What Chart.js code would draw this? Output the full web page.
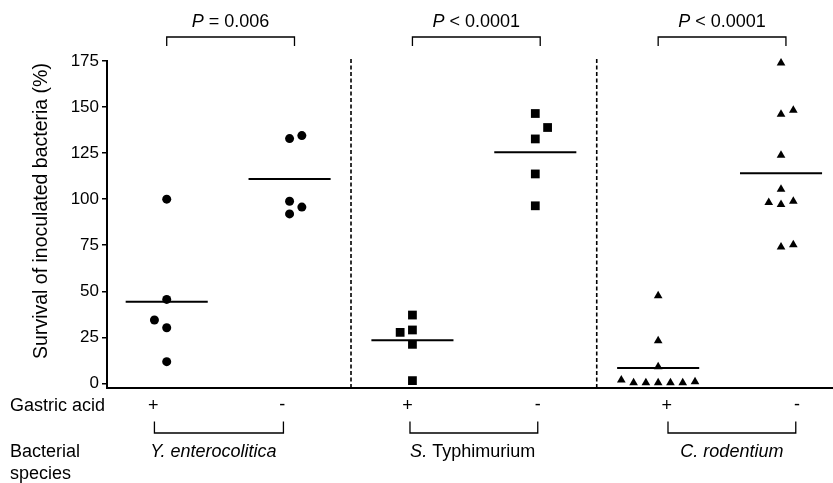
<!DOCTYPE html>
<html>
<head>
<meta charset="utf-8">
<script src="https://cdn.jsdelivr.net/npm/chart.js@4.4.0/dist/chart.umd.min.js"></script>
<style>
  html, body { margin:0; padding:0; background:#fff; }
  canvas { display:block; }
</style>
</head>
<body>
<canvas id="chart" width="833" height="483"></canvas>
<script>
// ================================
// Gastric acid survival – data
// ================================
const groupPos = [1, 2, 3, 4, 5, 6];   // Y+ Y- S+ S- C+ C-
const yTicks = [0, 25, 50, 75, 100, 125, 150, 175];
const yTitle = "Survival of inoculated bacteria (%)";

const yePlus   = [100, 45.6, 34.4, 30.2, 11.8];
const yePlusDx = [0, 0, -0.1, 0, 0];
const yeMinus   = [132.9, 134.5, 98.9, 95.7, 92.0];
const yeMinusDx = [0, 0.1, 0, 0.1, 0];

const stPlus   = [37.1, 27.7, 29.0, 21.2, 1.5];
const stPlusDx = [0, -0.1, 0, 0, 0];
const stMinus   = [146.5, 138.9, 132.7, 113.7, 96.4];
const stMinusDx = [0, 0.1, 0, 0, 0];

const crPlus   = [47.6, 23.2, 9.1, 1.8, 0.4, 0.4, 0.4, 0.4, 0.4, 0.9];
const crPlusDx = [0, 0, 0, -0.3, -0.2, -0.1, 0, 0.1, 0.2, 0.3];
const crMinus   = [173.9, 146.1, 148.3, 123.9, 105.4, 98.2, 97.1, 98.9, 74.1, 75.2];
const crMinusDx = [0, 0, 0.1, 0, 0, -0.1, 0, 0.1, 0, 0.1];

const groupMeans = [44.3, 111.0, 23.4, 125.5, 8.4, 114.1];

const pValues = ["= 0.006", "< 0.0001", "< 0.0001"];
const speciesLabels = [
  [["Y. enterocolitica", true]],
  [["S.", true], [" Typhimurium", false]],
  [["C. rodentium", true]]
];
const separators = [2.5, 4.5];

// annotation positions (x in group units)
const topBrackets = [[1.0, 2.04], [3.0, 4.04], [5.0, 6.04]];
const bottomBrackets = [[0.90, 1.95], [2.98, 4.02], [5.08, 6.12]];
const plusX = [0.89, 2.96, 5.07];
const minusX = [1.94, 4.02, 6.13];
const speciesX = [1.38, 3.49, 5.60];

const FONT = "'Liberation Sans', Arial, Helvetica, sans-serif";

function pts(pos, vals, dx) {
  return vals.map((v, i) => ({ x: pos + dx[i], y: v }));
}

function pointSet(pos, vals, dx, style, r) {
  return {
    type: "scatter",
    data: pts(pos, vals, dx),
    pointStyle: style,
    pointRadius: r,
    pointHoverRadius: r,
    backgroundColor: "#000",
    borderColor: "#000",
    borderWidth: 0,
    clip: false
  };
}

const datasets = [
  pointSet(groupPos[0], yePlus, yePlusDx, "circle", 4.5),
  pointSet(groupPos[1], yeMinus, yeMinusDx, "circle", 4.5),
  pointSet(groupPos[2], stPlus, stPlusDx, "rect", 6.2),
  pointSet(groupPos[3], stMinus, stMinusDx, "rect", 6.2),
  pointSet(groupPos[4], crPlus, crPlusDx, "triangle", 5),
  pointSet(groupPos[5], crMinus, crMinusDx, "triangle", 5)
];

// mean lines
groupMeans.forEach((m, i) => {
  datasets.push({
    type: "line",
    data: [{ x: groupPos[i] - 0.334, y: m }, { x: groupPos[i] + 0.334, y: m }],
    borderColor: "#000",
    borderWidth: 2,
    pointRadius: 0,
    fill: false
  });
});

// dashed separators
separators.forEach(s => {
  datasets.push({
    type: "line",
    data: [{ x: s, y: -2.5 }, { x: s, y: 176.5 }],
    borderColor: "#000",
    borderWidth: 1.6,
    borderDash: [4, 2.5],
    pointRadius: 0,
    fill: false,
    clip: false
  });
});

function drawMixed(ctx, parts, cx, cy, size) {
  const fonts = parts.map(p => (p[1] ? "italic " : "") + size + "px " + FONT);
  let total = 0;
  const widths = parts.map((p, i) => { ctx.font = fonts[i]; const w = ctx.measureText(p[0]).width; total += w; return w; });
  let xx = cx - total / 2;
  ctx.textAlign = "left";
  ctx.textBaseline = "middle";
  parts.forEach((p, i) => {
    ctx.font = fonts[i];
    ctx.fillText(p[0], xx, cy);
    xx += widths[i];
  });
}

const annotations = {
  id: "annotations",
  afterDraw(chart) {
    const { ctx, scales: { x } } = chart;
    ctx.save();
    ctx.strokeStyle = "#000";
    ctx.fillStyle = "#000";
    ctx.lineWidth = 1.3;

    // y title
    ctx.save();
    ctx.translate(42, 211);
    ctx.rotate(-Math.PI / 2);
    ctx.font = "19.5px " + FONT;
    ctx.textAlign = "center";
    ctx.textBaseline = "middle";
    ctx.fillText(yTitle, 0, 0);
    ctx.restore();

    // P value brackets
    topBrackets.forEach((b, i) => {
      const x1 = x.getPixelForValue(b[0]), x2 = x.getPixelForValue(b[1]);
      ctx.beginPath();
      ctx.moveTo(x1, 46); ctx.lineTo(x1, 37); ctx.lineTo(x2, 37); ctx.lineTo(x2, 46);
      ctx.stroke();
      drawMixed(ctx, [["P", true], [" " + pValues[i], false]], (x1 + x2) / 2, 22, 18);
    });

    // left labels
    ctx.font = "18px " + FONT;
    ctx.textAlign = "left";
    ctx.textBaseline = "middle";
    ctx.fillText("Gastric acid", 10, 406);
    ctx.fillText("Bacterial", 10, 452);
    ctx.fillText("species", 10, 474);

    // + / - signs
    ctx.textAlign = "center";
    plusX.forEach(v => ctx.fillText("+", x.getPixelForValue(v), 406));
    minusX.forEach(v => ctx.fillText("-", x.getPixelForValue(v), 405));

    // species brackets
    bottomBrackets.forEach(b => {
      const x1 = x.getPixelForValue(b[0]), x2 = x.getPixelForValue(b[1]);
      ctx.beginPath();
      ctx.moveTo(x1, 421.5); ctx.lineTo(x1, 433); ctx.lineTo(x2, 433); ctx.lineTo(x2, 421.5);
      ctx.stroke();
    });

    speciesLabels.forEach((parts, i) => {
      drawMixed(ctx, parts, x.getPixelForValue(speciesX[i]), 452, 18);
    });

    ctx.restore();
  }
};

new Chart(document.getElementById("chart"), {
  type: "scatter",
  data: { datasets },
  plugins: [annotations],
  options: {
    responsive: false,
    animation: false,
    events: [],
    layout: { autoPadding: false, padding: { top: 61, right: 0, bottom: 0, left: 0 } },
    plugins: {
      legend: { display: false },
      tooltip: { enabled: false }
    },
    scales: {
      x: {
        type: "linear",
        min: 0.514,
        max: 6.423,
        ticks: { display: false },
        grid: { display: false },
        border: { display: true, color: "#000", width: 2 },
        afterFit: s => { s.height = 95; }
      },
      y: {
        type: "linear",
        min: -2.5,
        max: 175,
        afterBuildTicks: s => { s.ticks = yTicks.map(v => ({ value: v })); },
        ticks: {
          color: "#000",
          padding: 3,
          font: { family: FONT, size: 17 }
        },
        grid: {
          drawOnChartArea: false,
          drawTicks: true,
          tickLength: 5,
          color: "#000",
          lineWidth: 1.5
        },
        border: { display: true, color: "#000", width: 2 },
        afterFit: s => { s.width = 107; }
      }
    }
  }
});
</script>
</body>
</html>
